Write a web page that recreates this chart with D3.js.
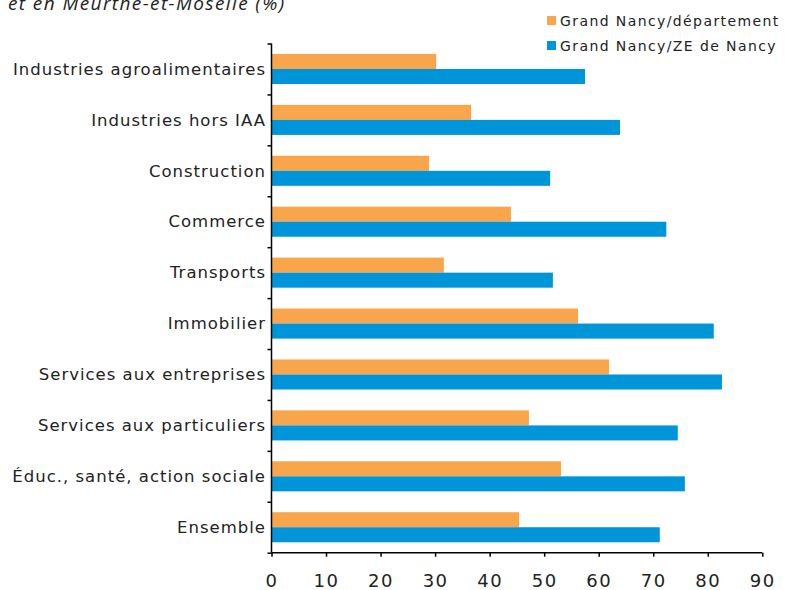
<!DOCTYPE html>
<html><head><meta charset="utf-8">
<script src="https://cdn.jsdelivr.net/npm/d3@7"></script>
<style>
html,body{margin:0;padding:0;background:#fff;}
svg{display:block;}
</style></head>
<body>
<svg id="chart" width="795" height="590"></svg>
<script>
const categories = ["Industries agroalimentaires","Industries hors IAA","Construction","Commerce","Transports","Immobilier","Services aux entreprises","Services aux particuliers","Éduc., santé, action sociale","Ensemble"];
const departement = [30.2, 36.6, 28.9, 43.9, 31.6, 56.2, 61.9, 47.2, 53.1, 45.4];
const zeNancy = [57.5, 63.9, 51.1, 72.4, 51.6, 81.1, 82.6, 74.5, 75.8, 71.2];
const seriesNames = ["Grand Nancy/département","Grand Nancy/ZE de Nancy"];
const xTicks = [0,10,20,30,40,50,60,70,80,90];
const titleLine = "et en Meurthe-et-Moselle (%)";

const colors = ["#F9A54B","#0095D8"];
const svg = d3.select("#chart");
const x = d3.scaleLinear().domain([0,90]).range([271.5,762.3]);
const y = d3.scaleBand().domain(categories).range([43.5,552.7]).paddingInner(0.41).paddingOuter(0.205);
const bw = y.bandwidth()/2;
const yb = d3.scaleLinear().domain([0,categories.length]).range([43.5,552.7]);

// title fragment (the rest of the title lies above the visible area)
svg.append("text").attr("x",8).attr("y",10).attr("font-family","Open Sans, sans-serif")
  .attr("font-style","italic").attr("font-size",19).attr("letter-spacing","1.4px")
  .attr("fill","#222").text(titleLine);

// bars
const g = svg.append("g");
g.selectAll("rect.d").data(categories).join("rect").attr("class","d")
  .attr("x",x(0)).attr("y",d=>y(d)).attr("height",bw)
  .attr("width",(d,i)=>x(departement[i])-x(0)).attr("fill",colors[0]);
g.selectAll("rect.z").data(categories).join("rect").attr("class","z")
  .attr("x",x(0)).attr("y",d=>y(d)+bw).attr("height",bw)
  .attr("width",(d,i)=>x(zeNancy[i])-x(0)).attr("fill",colors[1]);

// y axis
const yAxis = d3.axisLeft(yb).tickValues(d3.range(0,categories.length+1)).tickSize(4).tickFormat("");
const ya = svg.append("g").attr("transform",`translate(${x(0)},0)`).call(yAxis);
ya.selectAll("path,line").attr("stroke","#000").attr("stroke-width",1.5);
ya.select(".domain").attr("d",`M0,${yb(0)}V${yb(categories.length)}`);

// category labels
svg.selectAll("text.cat").data(categories).join("text").attr("class","cat")
  .attr("x",266).attr("y",d=>y(d)+y.bandwidth()/2).attr("dy","0.35em")
  .attr("text-anchor","end").attr("font-family","DejaVu Sans, sans-serif")
  .attr("font-size",16.5).attr("letter-spacing","1px").attr("fill","#222").text(d=>d);

// x axis
const xAxis = d3.axisBottom(x).tickValues(xTicks).tickSize(4).tickPadding(18).tickFormat(d3.format("d"));
const xa = svg.append("g").attr("transform",`translate(0,${yb(categories.length)})`).call(xAxis);
xa.selectAll("path,line").attr("stroke","#000").attr("stroke-width",1.5);
xa.select(".domain").attr("d",`M${x(0)},0H${x(90)}`);
xa.selectAll("text").attr("font-family","DejaVu Sans, sans-serif").attr("font-size",18)
  .attr("letter-spacing","1.5px").attr("fill","#222");

// legend
const leg = svg.append("g");
seriesNames.forEach((n,i)=>{
  const ly = 21 + i*25;
  leg.append("rect").attr("x",547).attr("y",ly-5).attr("width",9).attr("height",9).attr("fill",colors[i]);
  leg.append("text").attr("x",560).attr("y",ly).attr("dy","0.35em")
    .attr("font-family","DejaVu Sans, sans-serif").attr("font-size",14)
    .attr("letter-spacing","1.4px").attr("fill","#222").text(n);
});
</script>
</body></html>
